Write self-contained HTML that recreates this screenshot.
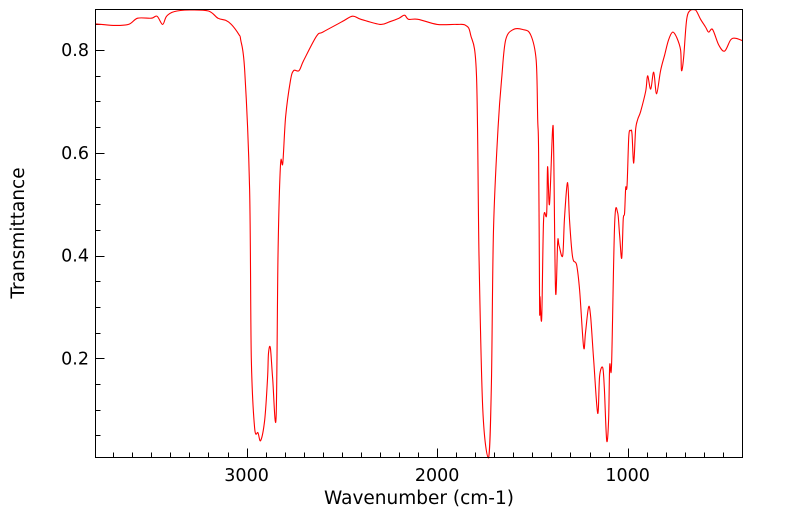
<!DOCTYPE html>
<html><head><meta charset="utf-8"><style>
html,body{margin:0;padding:0;background:#fff;}
svg{display:block;font-family:"DejaVu Sans","Liberation Sans",sans-serif;}
</style></head><body>
<svg id="chart" width="799" height="516" viewBox="0 0 799 516" xmlns="http://www.w3.org/2000/svg">
<g id="axes"></g>
<path id="series" fill="none" stroke="#ff0000" stroke-width="1.1" stroke-linejoin="round"></path>
<rect x="95.5" y="9.5" width="647" height="448" fill="none" stroke="#000" stroke-width="1"></rect>
<text x="419" y="504" font-size="18.5" text-anchor="middle">Wavenumber (cm-1)</text>
<text transform="translate(24,233) rotate(-90)" font-size="18.5" text-anchor="middle">Transmittance</text>
</svg>
<script>
const wavenumbers = [3793,3700,3620,3572,3500,3470,3441,3420,3380,3300,3200,3150,3110,3080,3040,3031,3010,2984,2975,2958,2940,2926,2905,2890,2885,2875,2863,2845,2835,2822,2810,2795,2770,2753,2725,2700,2633,2600,2500,2444,2400,2300,2250,2200,2171,2150,2100,2000,1900,1850,1824,1793,1780,1760,1730,1715,1704,1680,1660,1640,1600,1550,1509,1480,1472,1467,1462,1460,1451,1441,1425,1420,1410,1394,1388,1378,1367,1360,1341,1331,1315,1305,1289,1268,1252,1231,1221,1205,1194,1178,1157,1147,1131,1122,1110,1100,1094,1084,1068,1052,1042,1031,1023,1016,1010,1003,994,984,977,968,958,947,932,905,895,879,863,848,827,806,785,764,743,722,717,706,690,669,643,617,591,575,554,522,491,459,433,396];
const transmittance = [0.851,0.848,0.85,0.862,0.862,0.866,0.85,0.866,0.875,0.878,0.876,0.862,0.858,0.85,0.83,0.82,0.76,0.53,0.2,0.065,0.055,0.04,0.08,0.16,0.21,0.22,0.16,0.085,0.4,0.577,0.58,0.67,0.74,0.76,0.76,0.78,0.827,0.835,0.855,0.866,0.86,0.85,0.855,0.862,0.868,0.86,0.86,0.85,0.85,0.848,0.83,0.75,0.4,0.1,0.006,0.15,0.45,0.65,0.75,0.82,0.84,0.84,0.83,0.78,0.665,0.6,0.3,0.32,0.278,0.47,0.48,0.573,0.5,0.646,0.6,0.329,0.427,0.42,0.4,0.476,0.542,0.47,0.397,0.382,0.333,0.222,0.25,0.3,0.28,0.196,0.093,0.165,0.182,0.14,0.04,0.08,0.186,0.19,0.464,0.483,0.44,0.395,0.47,0.483,0.532,0.535,0.632,0.643,0.637,0.58,0.645,0.665,0.68,0.72,0.75,0.724,0.757,0.715,0.76,0.79,0.82,0.835,0.825,0.8,0.76,0.785,0.86,0.878,0.878,0.86,0.845,0.835,0.84,0.81,0.798,0.82,0.823,0.818];
const xMajorTicks = [3000,2000,1000];
const yMajorTicks = [0.2,0.4,0.6,0.8];

const L=95.5,R=742.5,T=9.5,B=457.5;
const X0=3793,X1=397,Y0=0.007,Y1=0.879;
function xs(w){return L+(X0-w)/(X0-X1)*(R-L);}
function ys(v){return B-(v-Y0)/(Y1-Y0)*(B-T);}
const NS="http://www.w3.org/2000/svg";
const axes=document.getElementById('axes');
function line(x1,y1,x2,y2,name){
  const l=document.createElementNS(NS,'line');
  l.setAttribute('x1',x1);l.setAttribute('y1',y1);l.setAttribute('x2',x2);l.setAttribute('y2',y2);
  l.setAttribute('stroke','#000');l.setAttribute('stroke-width','1');
  
  
  axes.appendChild(l);
}
function text(x,y,s,anchor,name){
  const t=document.createElementNS(NS,'text');
  t.setAttribute('x',x);t.setAttribute('y',y);t.setAttribute('font-size','17.5');t.setAttribute('text-anchor',anchor);
  t.textContent=s;
  
  
  axes.appendChild(t);
}
for(let w=500;w<=3700;w+=100){
  const x=Math.round(xs(w))+0.5;
  const major=w%1000===0;
  line(x,B,x,B-(major?9:5),'x-tick');
}
xMajorTicks.forEach(w=>text(xs(w),481,String(w),'middle','x-tick-label'));
for(let i=1;i<=17;i++){
  const v=i*0.05;
  const y=Math.round(ys(v))+0.5;
  const major=i%4===0;
  line(L,y,L+(major?9:5),y,'y-tick');
}
yMajorTicks.forEach(v=>text(89,ys(v)+6,v.toFixed(1),'end','y-tick-label'));
// smooth curve (Catmull-Rom, clamped)
const P=wavenumbers.map((w,i)=>[xs(w),ys(transmittance[i])]);
let d='M'+P[0][0].toFixed(1)+' '+P[0][1].toFixed(1);
const k=0.5/3;
for(let i=0;i<P.length-1;i++){
  const p0=P[Math.max(0,i-1)],p1=P[i],p2=P[i+1],p3=P[Math.min(P.length-1,i+2)];
  let c1x=p1[0]+(p2[0]-p0[0])*k, c1y=p1[1]+(p2[1]-p0[1])*k;
  let c2x=p2[0]-(p3[0]-p1[0])*k, c2y=p2[1]-(p3[1]-p1[1])*k;
  c1x=Math.min(Math.max(c1x,p1[0]),p2[0]); c2x=Math.min(Math.max(c2x,p1[0]),p2[0]);
  c1y=Math.min(Math.max(c1y,T),B); c2y=Math.min(Math.max(c2y,T),B);
  d+='C'+c1x.toFixed(1)+' '+c1y.toFixed(1)+' '+c2x.toFixed(1)+' '+c2y.toFixed(1)+' '+p2[0].toFixed(1)+' '+p2[1].toFixed(1);
}
document.getElementById('series').setAttribute('d',d);
</script>
</body></html>
